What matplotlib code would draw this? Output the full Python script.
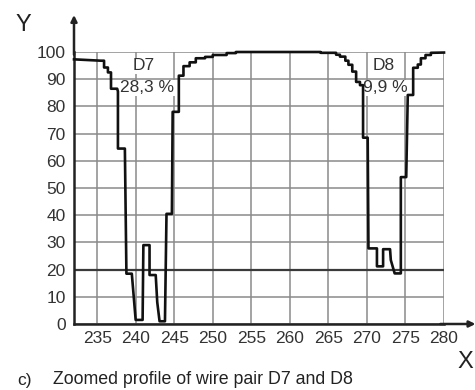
import matplotlib.pyplot as plt

# profile points (position, level %)
profile_x = [232, 235.5, 235.9, 235.9, 236.4, 236.4, 236.8, 236.8, 237.6, 237.7, 237.7,
             238.6, 238.8, 239.5, 240.0, 240.9, 241.0, 241.8, 241.8, 242.6, 242.8, 243.1,
             243.8, 244.0, 244.7, 244.8, 245.6, 245.6, 246.2, 246.2, 247.0, 247.0, 247.8,
             247.8, 249.0, 249.0, 250.0, 250.0, 251.8, 251.8, 253.0, 253.0,
             264.0, 264.0, 266.0, 266.0, 266.5, 266.5, 267.2, 267.2, 267.6, 267.6,
             268.1, 268.1, 268.6, 268.6, 269.1, 269.1, 269.5, 269.5, 270.1, 270.2,
             271.3, 271.3, 272.1, 272.1, 273.0, 273.1, 273.6, 274.4, 274.4, 275.1,
             275.3, 276.0, 276.0, 276.6, 276.6, 277.0, 277.0, 277.6, 277.6, 278.3,
             278.3, 280.0]
profile_y = [97.3, 96.8, 96.8, 94.3, 94.3, 92.5, 92.5, 86.5, 86.5, 85.5, 64.5,
             64.5, 18.5, 18.5, 1.5, 1.5, 29.0, 29.0, 18.0, 18.0, 8.0, 1.0,
             1.0, 40.5, 40.5, 78.0, 78.0, 91.3, 91.3, 94.8, 94.8, 96.2, 96.2,
             97.7, 97.7, 98.2, 98.2, 98.9, 98.9, 99.6, 99.6, 100.0,
             100.0, 99.7, 99.7, 99.0, 99.0, 98.3, 98.3, 96.8, 96.8, 95.3,
             95.3, 92.8, 92.8, 89.0, 89.0, 87.8, 87.8, 68.5, 68.5, 27.8,
             27.8, 21.2, 21.2, 27.5, 27.5, 23.5, 18.6, 18.6, 54.0, 54.0,
             84.2, 84.2, 94.2, 94.2, 95.4, 95.4, 97.7, 97.7, 98.9, 98.9,
             99.7, 99.8]

x_ticks = list(range(235, 281, 5))
y_ticks = list(range(0, 101, 10))

pair_names = ["D7", "D8"]
pair_values = ["28,3 %", "9,9 %"]
name_x = [241.1, 272.2]
value_x = [241.5, 272.4]

W, H = 475, 390
plt.rcParams['font.family'] = ['Liberation Sans', 'DejaVu Sans']

fig = plt.figure(figsize=(W / 100, H / 100), dpi=100)
ax = fig.add_axes([74 / W, 66 / H, 370 / W, 272 / H])
ax.set_xlim(232, 280)
ax.set_ylim(0, 100)

ax.set_xticks(x_ticks)
ax.set_yticks(y_ticks)
ax.grid(color='#8a8a8a', lw=1.1)
ax.axhline(20, color='#3a3a3a', lw=1.6, zorder=1.6)
ax.tick_params(length=0, labelsize=12.5, labelcolor='#333333')
ax.tick_params(axis='x', pad=5)
ax.tick_params(axis='y', pad=6)

for s in ['top', 'right']:
    ax.spines[s].set_visible(False)
for s in ['left', 'bottom']:
    ax.spines[s].set_linewidth(1.8)
    ax.spines[s].set_color('#222222')

# axis arrows
ax.annotate('', xy=(0, 1.136), xytext=(0, 0.99), xycoords='axes fraction',
            arrowprops=dict(arrowstyle='-|>', color='#222222', lw=1.8,
                            mutation_scale=9, shrinkA=0, shrinkB=0))
ax.annotate('', xy=(1.085, 0), xytext=(0.99, 0), xycoords='axes fraction',
            arrowprops=dict(arrowstyle='-|>', color='#222222', lw=1.8,
                            mutation_scale=9, shrinkA=0, shrinkB=0))

ax.plot(profile_x, profile_y, color='#111111', lw=1.9, zorder=3, clip_on=False)

for name, val, nx, vx in zip(pair_names, pair_values, name_x, value_x):
    ax.text(nx, 94.9, name, ha='center', va='center', fontsize=12.5, color='#333333',
            zorder=2.5, bbox=dict(fc='white', ec='none', pad=0.3))
    ax.text(vx, 86.8, val, ha='center', va='center', fontsize=12.5, color='#333333',
            zorder=2.5, bbox=dict(fc='white', ec='none', pad=0.3))

fig.text(23 / W, 1 - 25 / H, 'Y', fontsize=17, ha='center', va='center', color='#222222')
fig.text(465 / W, 1 - 362 / H, 'X', fontsize=17, ha='center', va='center', color='#222222')
fig.text(17 / W, 1 - 380 / H, 'c)', fontsize=12.5, ha='left', va='center', color='#222222')
fig.text(53 / W, 1 - 380 / H, 'Zoomed profile of wire pair D7 and D8',
         fontsize=12.8, ha='left', va='center', color='#222222')

fig.savefig('out.png', dpi=100)
